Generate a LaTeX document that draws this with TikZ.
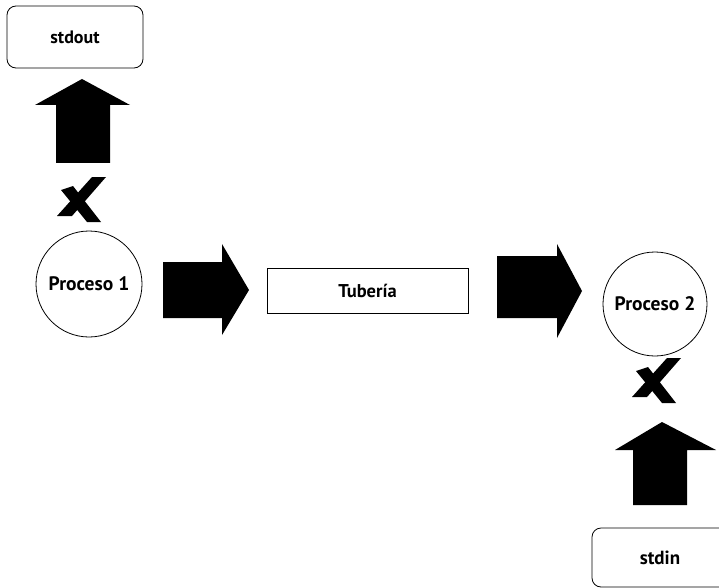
\documentclass[tikz,border=0pt]{standalone}
\usepackage{fontspec}
\setmainfont{PT Sans}
\begin{document}
\begin{tikzpicture}[x=1pt,y=-1pt,
  lbl/.style={font=\bfseries\fontsize{#1}{#1}\selectfont},
  roundbox/.style={draw,line width=0.8pt,rounded corners=9pt,inner sep=0pt},
  pipebox/.style={draw,line width=0.8pt,inner sep=0pt},
  proc/.style={draw,circle,line width=0.8pt,inner sep=0pt,minimum size=106pt},
  blockarrow/.style={fill=black}]
\useasboundingbox (0,0) rectangle (719,588);

% boxes and processes
\node[roundbox,minimum width=136pt,minimum height=62pt,lbl=18] (out) at (75,37) {stdout};
\node[proc,lbl=19.5] (p1) at (89,284) {Proceso 1};
\node[pipebox,minimum width=201pt,minimum height=45pt,lbl=18.5] (pipe) at (367.5,290.5) {Tubería};
\node[proc,lbl=19.5,minimum size=104pt] (p2) at (655,304) {Proceso 2};
\node[roundbox,minimum width=136pt,minimum height=59pt,lbl=19] (in) at (660,557.5) {stdin};

% block arrows
\fill[blockarrow] (56,163) -- (56,105) -- (35,105) -- (82,79) -- (130,105) -- (110,105) -- (110,163) -- cycle;
\fill[blockarrow] (163,262) -- (222,262) -- (222,244) -- (249,290) -- (222,335) -- (222,318) -- (163,318) -- cycle;
\fill[blockarrow] (497,256) -- (557,256) -- (557,244) -- (582,291) -- (557,338) -- (557,318) -- (497,318) -- cycle;
\fill[blockarrow] (633,505) -- (633,450) -- (615,450) -- (662,422) -- (716,450) -- (687,450) -- (687,505) -- cycle;

% blocked connections: long stroke top-right to bottom-left, short stroke mid-left to bottom-right
\begin{scope}[shift={(81,200)}]
  \fill (11,-23) -- (25,-23) -- (-9,16) -- (-24,16) -- cycle;
  \fill (-20,-10) -- (-8,-14) -- (20,22) -- (6,22) -- cycle;
\end{scope}
\begin{scope}[shift={(656,381)}]
  \fill (11,-23) -- (25,-23) -- (-9,16) -- (-24,16) -- cycle;
  \fill (-20,-10) -- (-8,-14) -- (20,22) -- (6,22) -- cycle;
\end{scope}
\end{tikzpicture}
\end{document}
